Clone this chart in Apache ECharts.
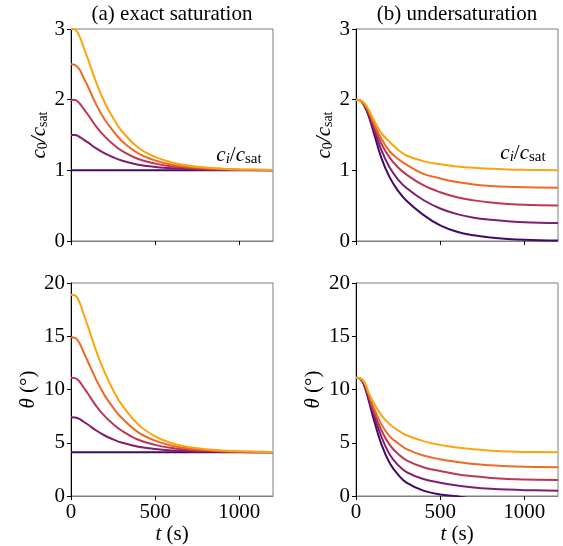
<!DOCTYPE html>
<html>
<head>
<meta charset="utf-8">
<script src="https://cdn.jsdelivr.net/npm/echarts@6/dist/echarts.min.js"></script>
<style>html,body{margin:0;padding:0;background:#fff}#c{width:563px;height:546px}</style>
</head>
<body>
<div id="c"></div>
<script>
// time samples (s)
const times = [0,25,50,75,100,150,200,250,300,400,500,600,700,800,900,1000,1200];

// (a) exact saturation, c0/csat
const aC_10 = [1,1,1,1,1,1,1,1,1,1,1,1,1,1,1,1,1];
const aC_15 = [1.5,1.5,1.475,1.435,1.395,1.31,1.24,1.185,1.14,1.08,1.048,1.028,1.017,1.01,1.006,1.004,1.001];
const aC_20 = [2,1.995,1.95,1.87,1.79,1.62,1.48,1.37,1.28,1.16,1.095,1.055,1.033,1.02,1.012,1.007,1.002];
const aC_25 = [2.5,2.49,2.43,2.31,2.19,1.93,1.72,1.56,1.42,1.24,1.14,1.08,1.05,1.03,1.018,1.01,1.003];
const aC_30 = [3,2.99,2.9,2.74,2.58,2.24,1.96,1.74,1.56,1.32,1.19,1.11,1.066,1.04,1.024,1.014,1.004];

// (a) exact saturation, theta (deg)
const aT_10 = [4.1,4.1,4.1,4.1,4.1,4.1,4.1,4.1,4.1,4.1,4.1,4.1,4.1,4.1,4.1,4.1,4.1];
const aT_15 = [7.4,7.38,7.24,6.97,6.71,6.15,5.68,5.32,5.02,4.63,4.41,4.28,4.21,4.17,4.14,4.12,4.11];
const aT_20 = [11.1,11.07,10.75,10.19,9.63,8.44,7.5,6.75,6.15,5.28,4.8,4.5,4.33,4.24,4.18,4.15,4.11];
const aT_25 = [14.9,14.85,14.36,13.5,12.63,10.9,9.45,8.3,7.35,5.98,5.2,4.72,4.47,4.32,4.23,4.18,4.12];
const aT_30 = [18.9,18.83,18.2,17.1,15.95,13.6,11.6,9.95,8.6,6.7,5.6,4.95,4.6,4.4,4.28,4.2,4.13];

// (b) undersaturation, c0/csat
const bC_00 = [2,1.99,1.91,1.77,1.58,1.18,0.9,0.71,0.57,0.37,0.22,0.13,0.08,0.05,0.03,0.018,0.006];
const bC_025 = [2,1.99,1.92,1.79,1.62,1.29,1.04,0.87,0.75,0.58,0.46,0.38,0.33,0.3,0.28,0.265,0.253];
const bC_05 = [2,1.99,1.93,1.82,1.67,1.38,1.18,1.04,0.94,0.79,0.69,0.62,0.575,0.545,0.525,0.513,0.503];
const bC_075 = [2,1.99,1.94,1.84,1.7,1.45,1.27,1.16,1.08,0.95,0.885,0.835,0.8,0.78,0.767,0.76,0.752];
const bC_10 = [2,1.99,1.95,1.86,1.74,1.53,1.4,1.29,1.21,1.13,1.085,1.055,1.035,1.022,1.013,1.008,1.002];

// (b) undersaturation, theta (deg)
const bT_00 = [11.1,11.02,10.3,9.0,7.5,4.9,3.1,2.0,1.25,0.5,0.15,-0.02,-0.3,-0.5,-0.7,-0.8,-1.0];
const bT_025 = [11.1,11.03,10.4,9.2,7.9,5.6,3.9,2.9,2.25,1.6,1.25,0.98,0.8,0.68,0.6,0.55,0.5];
const bT_05 = [11.1,11.04,10.5,9.4,8.2,6.2,4.8,3.95,3.35,2.7,2.35,2.05,1.85,1.7,1.6,1.55,1.5];
const bT_075 = [11.1,11.05,10.6,9.6,8.5,6.75,5.6,4.95,4.4,3.8,3.45,3.2,3.0,2.88,2.8,2.75,2.7];
const bT_10 = [11.1,11.05,10.7,9.7,8.9,7.6,6.75,6.15,5.7,5.15,4.8,4.55,4.38,4.25,4.18,4.14,4.1];

const xTicks = [0,500,1000];
const colors = ['#420a68','#7e1e6c','#bc3754','#ed6925','#fca50a'];

const FONT = '"Liberation Serif", "Times New Roman", serif';
const chart = echarts.init(document.getElementById('c'), null, {renderer:'canvas'});

const grids = [
  {left:71, top:29, width:202, height:212},
  {left:356, top:29, width:202, height:212},
  {left:71, top:283, width:202, height:213},
  {left:356, top:283, width:202, height:213}
].map(g => Object.assign({show:true, borderColor:'#7f7f7f', borderWidth:1, backgroundColor:'transparent'}, g));

const richBase = {
  i: {fontFamily:FONT, fontStyle:'italic', fontSize:21, color:'#000'},
  r: {fontFamily:FONT, fontSize:21, color:'#000'},
  s: {fontFamily:FONT, fontSize:14, color:'#000', padding:[9,0,0,0]},
  si: {fontFamily:FONT, fontStyle:'italic', fontSize:14, color:'#000', padding:[9,0,0,0]}
};

function xAxis(gi, showLabels) {
  return {
    type:'value', gridIndex:gi, min:0, max:1200,
    axisLine:{show:true, lineStyle:{color:'#7f7f7f', width:1}},
    axisTick:{show:true, customValues:xTicks, length:4, lineStyle:{color:'#000'}},
    axisLabel:{show:showLabels, customValues:xTicks, formatter:v=>String(v), fontFamily:FONT, fontSize:21, color:'#000', margin:6},
    splitLine:{show:false},
    name: showLabels ? '{i|t}{r| (s)}' : '',
    nameLocation:'middle', nameGap:26,
    nameTextStyle:{rich:richBase}
  };
}
function yAxis(gi, max, interval, name, gap) {
  return {
    type:'value', gridIndex:gi, min:0, max:max, interval:interval,
    axisLine:{show:true, lineStyle:{color:'#000', width:1}},
    axisTick:{show:true, length:4, lineStyle:{color:'#000'}},
    axisLabel:{fontFamily:FONT, fontSize:21, color:'#000', margin:6, formatter:v=>String(v)},
    splitLine:{show:false},
    name:name, nameLocation:'middle', nameGap:gap, nameRotate:90,
    nameTextStyle:{rich:richBase}
  };
}
const cName = '{i|c}{s|0}{i|/c}{s|sat}';
const tName = '{i|θ}{r| (°)}';

function mk(gi, arr, k) {
  return {
    type:'line', xAxisIndex:gi, yAxisIndex:gi,
    data: times.map((t,i)=>[t, arr[i]]),
    smooth:0.4, showSymbol:false, symbol:'none',
    lineStyle:{color:colors[k], width:2}, itemStyle:{color:colors[k]},
    clip:true, silent:true, z:2+k
  };
}

const series = [];
[aC_10,aC_15,aC_20,aC_25,aC_30].forEach((a,k)=>series.push(mk(0,a,k)));
[bC_00,bC_025,bC_05,bC_075,bC_10].forEach((a,k)=>series.push(mk(1,a,k)));
[aT_10,aT_15,aT_20,aT_25,aT_30].forEach((a,k)=>series.push(mk(2,a,k)));
[bT_00,bT_025,bT_05,bT_075,bT_10].forEach((a,k)=>series.push(mk(3,a,k)));

const annRich = {
  i: {fontFamily:FONT, fontStyle:'italic', fontSize:21, fill:'#000', color:'#000'},
  r: {fontFamily:FONT, fontSize:21, fill:'#000', color:'#000'},
  s: {fontFamily:FONT, fontSize:15, fill:'#000', color:'#000', padding:[8,0,0,0]},
  si: {fontFamily:FONT, fontStyle:'italic', fontSize:15, fill:'#000', color:'#000', padding:[8,0,0,0]}
};

chart.setOption({
  animation:false,
  backgroundColor:'#fff',
  grid:grids,
  xAxis:[xAxis(0,false), xAxis(1,false), xAxis(2,true), xAxis(3,true)],
  yAxis:[yAxis(0,3,1,cName,18), yAxis(1,3,1,cName,18), yAxis(2,20,5,tName,32), yAxis(3,20,5,tName,32)],
  series:series,
  graphic:[
    {type:'text', x:172, y:14, style:{text:'(a) exact saturation', font:'21px "Liberation Serif"', fill:'#000', align:'center', verticalAlign:'middle'}},
    {type:'text', x:457, y:14, style:{text:'(b) undersaturation', font:'21px "Liberation Serif"', fill:'#000', align:'center', verticalAlign:'middle'}},
    {type:'text', x:239, y:155, style:{text:'{i|c}{si|i}{r|/}{i|c}{s|sat}', rich:annRich, align:'center', verticalAlign:'middle'}},
    {type:'text', x:523, y:153, style:{text:'{i|c}{si|i}{r|/}{i|c}{s|sat}', rich:annRich, align:'center', verticalAlign:'middle'}}
  ]
});
</script>
</body>
</html>
